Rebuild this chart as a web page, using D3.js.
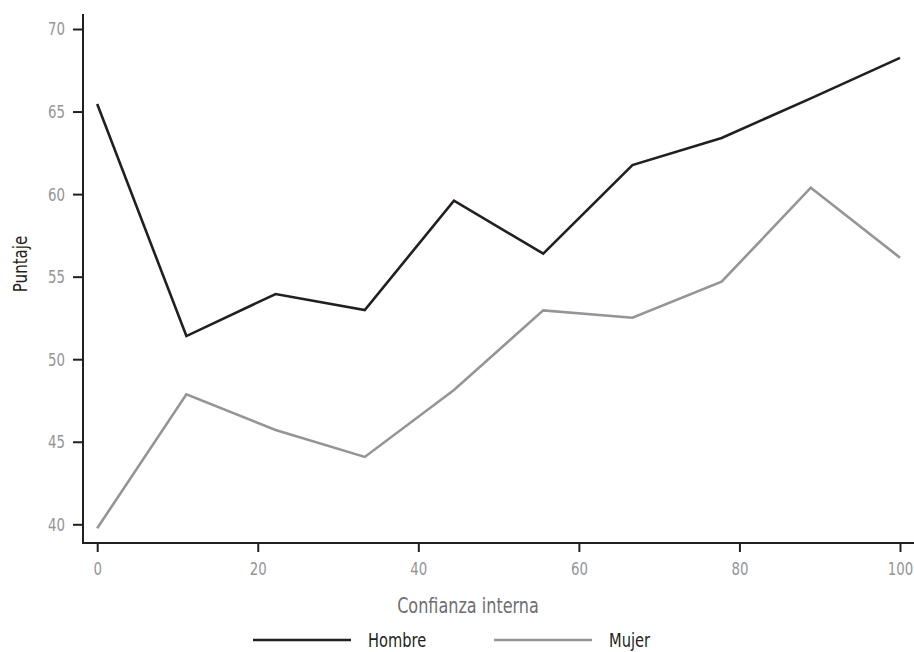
<!DOCTYPE html>
<html>
<head>
<meta charset="utf-8">
<script src="https://cdn.jsdelivr.net/npm/d3@7"></script>
<style>
  html, body { margin: 0; padding: 0; background: #fff; }
  svg { display: block; }
  text { font-family: "DejaVu Sans Condensed", "Liberation Sans Narrow", "Roboto", sans-serif; }
</style>
</head>
<body>
<svg id="chart" width="914" height="652"></svg>
<script>
const xValues = [0, 11.11, 22.22, 33.33, 44.44, 55.56, 66.67, 77.78, 88.89, 100];
const hombre = [65.46, 51.4, 53.95, 52.98, 59.6, 56.39, 61.76, 63.4, 65.8, 68.25];
const mujer  = [39.76, 47.87, 45.71, 44.08, 48.13, 52.96, 52.51, 54.69, 60.39, 56.15];
const xTicks = [0, 20, 40, 60, 80, 100];
const yTicks = [40, 45, 50, 55, 60, 65, 70];
const seriesNames = ["Hombre", "Mujer"];
const seriesColors = ["#231f20", "#939598"];
const xTitle = "Confianza interna";
const yTitle = "Puntaje";

const svg = d3.select("#chart");
const x = d3.scaleLinear().domain([0, 100]).range([97.2, 900]);
const y = d3.scaleLinear().domain([40, 70]).range([524.3, 29]);

const tickScale = 0.8;

// axes
const xAxis = svg.append("g").attr("transform", "translate(0,543)")
  .call(d3.axisBottom(x).tickValues(xTicks).tickSize(9).tickPadding(10));
const yAxis = svg.append("g").attr("transform", "translate(83,0)")
  .call(d3.axisLeft(y).tickValues(yTicks).tickSize(10).tickPadding(8));

[xAxis, yAxis].forEach(g => {
  g.select(".domain").remove();
  g.selectAll(".tick line").attr("stroke", "#231f20").attr("stroke-width", 2);
  g.selectAll(".tick text").attr("fill", "#939598").style("font-size", "18.5px")
    .attr("transform", `scale(${tickScale},1)`);
});
yAxis.selectAll(".tick text").attr("x", -18 / tickScale);

svg.append("line").attr("x1", 83).attr("x2", 83).attr("y1", 14).attr("y2", 544)
  .attr("stroke", "#231f20").attr("stroke-width", 2);
svg.append("line").attr("x1", 82).attr("x2", 914).attr("y1", 543).attr("y2", 543)
  .attr("stroke", "#231f20").attr("stroke-width", 2);

// lines
const line = d3.line().x((d, i) => x(xValues[i])).y(d => y(d));
[hombre, mujer].forEach((s, k) => {
  svg.append("path").datum(s).attr("d", line)
    .attr("fill", "none").attr("stroke", seriesColors[k])
    .attr("stroke-width", 2.6).attr("stroke-linejoin", "miter");
});

// titles
svg.append("g").attr("transform", "translate(468,612.5) scale(0.85,1)")
  .append("text").attr("text-anchor", "middle")
  .attr("fill", "#6d6e71").style("font-size", "21px").text(xTitle);
svg.append("g").attr("transform", "translate(27,264) rotate(-90) scale(0.88,1)")
  .append("text").attr("text-anchor", "middle")
  .attr("fill", "#231f20").style("font-size", "19px").text(yTitle);

// legend
const legendX = [253, 494];
const legendTextX = [368, 609];
seriesNames.forEach((n, k) => {
  svg.append("line").attr("x1", legendX[k]).attr("x2", legendX[k] + 98)
    .attr("y1", 640).attr("y2", 640).attr("stroke", seriesColors[k]).attr("stroke-width", 2.6);
  svg.append("g").attr("transform", `translate(${legendTextX[k]},646.5) scale(0.835,1)`)
    .append("text").attr("fill", "#231f20").style("font-size", "19.5px").text(n);
});
</script>
</body>
</html>
